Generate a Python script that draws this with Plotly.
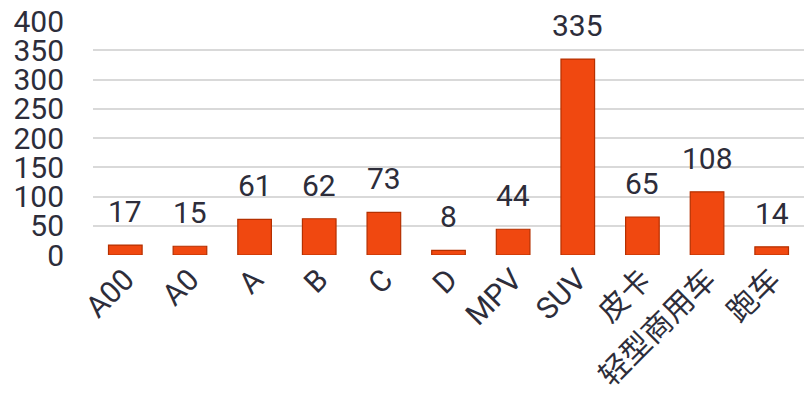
import plotly.graph_objects as go

categories = ["A00", "A0", "A", "B", "C", "D", "MPV", "SUV", "皮卡", "轻型商用车", "跑车"]
values = [17, 15, 61, 62, 73, 8, 44, 335, 65, 108, 14]
y_ticks = [0, 50, 100, 150, 200, 250, 300, 350, 400]

font_family = "Roboto, 'Noto Sans CJK SC', sans-serif"
text_color = "#2d2d3a"

fig = go.Figure()
fig.add_trace(go.Bar(
    x=categories,
    y=values,
    width=0.52,
    marker=dict(color="#f04810", line=dict(color="#b53000", width=1.2)),
    cliponaxis=False,
    hoverinfo="skip",
))

for c, v in zip(categories, values):
    fig.add_annotation(
        x=c, y=v, text=str(v), showarrow=False,
        xanchor="center", yanchor="bottom", yshift=14,
        font=dict(family=font_family, size=30, color=text_color),
    )

fig.update_layout(
    width=804,
    height=408,
    margin=dict(l=93, r=0, t=21, b=153),
    paper_bgcolor="white",
    plot_bgcolor="white",
    showlegend=False,
    font=dict(family=font_family, color=text_color),
)
fig.update_xaxes(
    tickangle=-45,
    tickfont=dict(family=font_family, size=30, color=text_color),
    showgrid=False,
    showline=False,
    ticks="",
    automargin=False,
    ticklabeloverflow="allow",
)
fig.update_yaxes(
    range=[0, 400.01],
    tickvals=y_ticks,
    tickfont=dict(family=font_family, size=30, color=text_color),
    showgrid=True,
    gridcolor="#d9d9d9",
    gridwidth=1.5,
    zeroline=False,
    ticks="",
    ticklabelstandoff=28,
    automargin=False,
    ticklabeloverflow="allow",
)

fig.write_html(
    "out.html",
    config={"displayModeBar": False},
    post_script="document.body.style.margin='0';document.body.style.overflow='hidden';",
)
